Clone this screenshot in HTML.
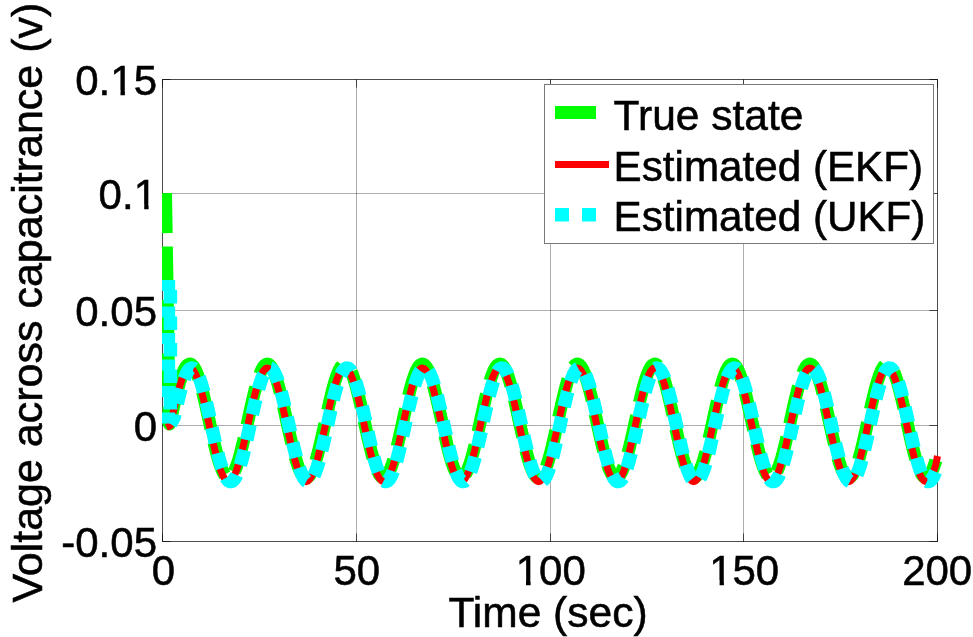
<!DOCTYPE html>
<html><head><meta charset="utf-8"><title>plot</title>
<style>html,body{margin:0;padding:0;background:#fff;overflow:hidden}svg{display:block;filter:blur(0.4px)}</style>
</head><body>
<svg width="973" height="637" viewBox="0 0 973 637">
<rect width="973" height="637" fill="#fff"/>
<defs><clipPath id="cp"><rect x="162" y="60" width="790" height="500"/></clipPath></defs>
<line x1="356.5" y1="79.5" x2="356.5" y2="541.5" stroke="#000000" stroke-opacity="0.32" stroke-width="1"/>
<line x1="550.5" y1="79.5" x2="550.5" y2="541.5" stroke="#000000" stroke-opacity="0.32" stroke-width="1"/>
<line x1="743.5" y1="79.5" x2="743.5" y2="541.5" stroke="#000000" stroke-opacity="0.32" stroke-width="1"/>
<line x1="162.5" y1="193.5" x2="937.5" y2="193.5" stroke="#000000" stroke-opacity="0.32" stroke-width="1"/>
<line x1="162.5" y1="310.5" x2="937.5" y2="310.5" stroke="#000000" stroke-opacity="0.32" stroke-width="1"/>
<line x1="162.5" y1="425.5" x2="937.5" y2="425.5" stroke="#000000" stroke-opacity="0.32" stroke-width="1"/>
<line x1="356.5" y1="541.5" x2="356.5" y2="533.5" stroke="#000000" stroke-opacity="0.62"/>
<line x1="356.5" y1="79.5" x2="356.5" y2="87.5" stroke="#000000" stroke-opacity="0.62"/>
<line x1="550.5" y1="541.5" x2="550.5" y2="533.5" stroke="#000000" stroke-opacity="0.62"/>
<line x1="550.5" y1="79.5" x2="550.5" y2="87.5" stroke="#000000" stroke-opacity="0.62"/>
<line x1="743.5" y1="541.5" x2="743.5" y2="533.5" stroke="#000000" stroke-opacity="0.62"/>
<line x1="743.5" y1="79.5" x2="743.5" y2="87.5" stroke="#000000" stroke-opacity="0.62"/>
<line x1="162.5" y1="193.5" x2="170.5" y2="193.5" stroke="#000000" stroke-opacity="0.62"/>
<line x1="937.5" y1="193.5" x2="929.5" y2="193.5" stroke="#000000" stroke-opacity="0.62"/>
<line x1="162.5" y1="310.5" x2="170.5" y2="310.5" stroke="#000000" stroke-opacity="0.62"/>
<line x1="937.5" y1="310.5" x2="929.5" y2="310.5" stroke="#000000" stroke-opacity="0.62"/>
<line x1="162.5" y1="425.5" x2="170.5" y2="425.5" stroke="#000000" stroke-opacity="0.62"/>
<line x1="937.5" y1="425.5" x2="929.5" y2="425.5" stroke="#000000" stroke-opacity="0.62"/>
<rect x="162.5" y="79.5" width="775" height="462" fill="none" stroke="#000000" stroke-opacity="0.7" stroke-width="1"/>
<line x1="162.5" y1="79.5" x2="170.5" y2="79.5" stroke="#000000" stroke-opacity="0.62"/>
<line x1="929.5" y1="79.5" x2="937.5" y2="79.5" stroke="#000000" stroke-opacity="0.62"/>
<line x1="162.5" y1="541.5" x2="170.5" y2="541.5" stroke="#000000" stroke-opacity="0.62"/>
<line x1="929.5" y1="541.5" x2="937.5" y2="541.5" stroke="#000000" stroke-opacity="0.62"/>
<line x1="162.5" y1="79.5" x2="162.5" y2="87.5" stroke="#000000" stroke-opacity="0.62"/>
<line x1="937.5" y1="79.5" x2="937.5" y2="87.5" stroke="#000000" stroke-opacity="0.62"/>
<line x1="162.5" y1="533.5" x2="162.5" y2="541.5" stroke="#000000" stroke-opacity="0.62"/>
<line x1="937.5" y1="533.5" x2="937.5" y2="541.5" stroke="#000000" stroke-opacity="0.62"/>
<g clip-path="url(#cp)" fill="none" stroke-linejoin="round">
<path d="M165.50 193.20 L169.30 424.00 L172.19 412.87 L174.12 404.17 L176.06 395.88 L178.00 388.20 L179.94 381.33 L181.88 375.44 L183.81 370.66 L185.75 367.12 L187.69 364.90 L189.62 364.06 L191.56 364.62 L193.50 366.57 L195.44 369.85 L197.38 374.39 L199.31 380.07 L201.25 386.76 L203.19 394.29 L205.12 402.47 L207.06 411.11 L209.00 419.99 L210.94 428.89 L212.88 437.59 L214.81 445.88 L216.75 453.56 L218.69 460.43 L220.62 466.32 L222.56 471.10 L224.50 474.64 L226.44 476.86 L228.38 477.70 L230.31 477.14 L232.25 475.19 L234.19 471.91 L236.12 467.37 L238.06 461.69 L240.00 455.00 L241.94 447.47 L243.88 439.29 L245.81 430.65 L247.75 421.77 L249.69 412.87 L251.62 404.17 L253.56 395.88 L255.50 388.20 L257.44 381.33 L259.38 375.44 L261.31 370.66 L263.25 367.12 L265.19 364.90 L267.12 364.06 L269.06 364.62 L271.00 366.57 L272.94 369.85 L274.88 374.39 L276.81 380.07 L278.75 386.76 L280.69 394.29 L282.62 402.47 L284.56 411.11 L286.50 419.99 L288.44 428.89 L290.38 437.59 L292.31 445.88 L294.25 453.56 L296.19 460.43 L298.12 466.32 L300.06 471.10 L302.00 474.64 L303.94 476.86 L305.88 477.70 L307.81 477.14 L309.75 475.19 L311.69 471.91 L313.62 467.37 L315.56 461.69 L317.50 455.00 L319.44 447.47 L321.38 439.29 L323.31 430.65 L325.25 421.77 L327.19 412.87 L329.12 404.17 L331.06 395.88 L333.00 388.20 L334.94 381.33 L336.88 375.44 L338.81 370.66 L340.75 367.12 L342.69 364.90 L344.62 364.06 L346.56 364.62 L348.50 366.57 L350.44 369.85 L352.38 374.39 L354.31 380.07 L356.25 386.76 L358.19 394.29 L360.12 402.47 L362.06 411.11 L364.00 419.99 L365.94 428.89 L367.88 437.59 L369.81 445.88 L371.75 453.56 L373.69 460.43 L375.62 466.32 L377.56 471.10 L379.50 474.64 L381.44 476.86 L383.38 477.70 L385.31 477.14 L387.25 475.19 L389.19 471.91 L391.12 467.37 L393.06 461.69 L395.00 455.00 L396.94 447.47 L398.88 439.29 L400.81 430.65 L402.75 421.77 L404.69 412.87 L406.62 404.17 L408.56 395.88 L410.50 388.20 L412.44 381.33 L414.38 375.44 L416.31 370.66 L418.25 367.12 L420.19 364.90 L422.12 364.06 L424.06 364.62 L426.00 366.57 L427.94 369.85 L429.88 374.39 L431.81 380.07 L433.75 386.76 L435.69 394.29 L437.62 402.47 L439.56 411.11 L441.50 419.99 L443.44 428.89 L445.38 437.59 L447.31 445.88 L449.25 453.56 L451.19 460.43 L453.12 466.32 L455.06 471.10 L457.00 474.64 L458.94 476.86 L460.88 477.70 L462.81 477.14 L464.75 475.19 L466.69 471.91 L468.62 467.37 L470.56 461.69 L472.50 455.00 L474.44 447.47 L476.38 439.29 L478.31 430.65 L480.25 421.77 L482.19 412.87 L484.12 404.17 L486.06 395.88 L488.00 388.20 L489.94 381.33 L491.88 375.44 L493.81 370.66 L495.75 367.12 L497.69 364.90 L499.62 364.06 L501.56 364.62 L503.50 366.57 L505.44 369.85 L507.38 374.39 L509.31 380.07 L511.25 386.76 L513.19 394.29 L515.12 402.47 L517.06 411.11 L519.00 419.99 L520.94 428.89 L522.88 437.59 L524.81 445.88 L526.75 453.56 L528.69 460.43 L530.62 466.32 L532.56 471.10 L534.50 474.64 L536.44 476.86 L538.38 477.70 L540.31 477.14 L542.25 475.19 L544.19 471.91 L546.12 467.37 L548.06 461.69 L550.00 455.00 L551.94 447.47 L553.88 439.29 L555.81 430.65 L557.75 421.77 L559.69 412.87 L561.62 404.17 L563.56 395.88 L565.50 388.20 L567.44 381.33 L569.38 375.44 L571.31 370.66 L573.25 367.12 L575.19 364.90 L577.12 364.06 L579.06 364.62 L581.00 366.57 L582.94 369.85 L584.88 374.39 L586.81 380.07 L588.75 386.76 L590.69 394.29 L592.62 402.47 L594.56 411.11 L596.50 419.99 L598.44 428.89 L600.38 437.59 L602.31 445.88 L604.25 453.56 L606.19 460.43 L608.12 466.32 L610.06 471.10 L612.00 474.64 L613.94 476.86 L615.88 477.70 L617.81 477.14 L619.75 475.19 L621.69 471.91 L623.62 467.37 L625.56 461.69 L627.50 455.00 L629.44 447.47 L631.38 439.29 L633.31 430.65 L635.25 421.77 L637.19 412.87 L639.12 404.17 L641.06 395.88 L643.00 388.20 L644.94 381.33 L646.88 375.44 L648.81 370.66 L650.75 367.12 L652.69 364.90 L654.62 364.06 L656.56 364.62 L658.50 366.57 L660.44 369.85 L662.38 374.39 L664.31 380.07 L666.25 386.76 L668.19 394.29 L670.12 402.47 L672.06 411.11 L674.00 419.99 L675.94 428.89 L677.88 437.59 L679.81 445.88 L681.75 453.56 L683.69 460.43 L685.62 466.32 L687.56 471.10 L689.50 474.64 L691.44 476.86 L693.38 477.70 L695.31 477.14 L697.25 475.19 L699.19 471.91 L701.12 467.37 L703.06 461.69 L705.00 455.00 L706.94 447.47 L708.88 439.29 L710.81 430.65 L712.75 421.77 L714.69 412.87 L716.62 404.17 L718.56 395.88 L720.50 388.20 L722.44 381.33 L724.38 375.44 L726.31 370.66 L728.25 367.12 L730.19 364.90 L732.12 364.06 L734.06 364.62 L736.00 366.57 L737.94 369.85 L739.88 374.39 L741.81 380.07 L743.75 386.76 L745.69 394.29 L747.62 402.47 L749.56 411.11 L751.50 419.99 L753.44 428.89 L755.38 437.59 L757.31 445.88 L759.25 453.56 L761.19 460.43 L763.12 466.32 L765.06 471.10 L767.00 474.64 L768.94 476.86 L770.88 477.70 L772.81 477.14 L774.75 475.19 L776.69 471.91 L778.62 467.37 L780.56 461.69 L782.50 455.00 L784.44 447.47 L786.38 439.29 L788.31 430.65 L790.25 421.77 L792.19 412.87 L794.12 404.17 L796.06 395.88 L798.00 388.20 L799.94 381.33 L801.88 375.44 L803.81 370.66 L805.75 367.12 L807.69 364.90 L809.62 364.06 L811.56 364.62 L813.50 366.57 L815.44 369.85 L817.38 374.39 L819.31 380.07 L821.25 386.76 L823.19 394.29 L825.12 402.47 L827.06 411.11 L829.00 419.99 L830.94 428.89 L832.88 437.59 L834.81 445.88 L836.75 453.56 L838.69 460.43 L840.62 466.32 L842.56 471.10 L844.50 474.64 L846.44 476.86 L848.38 477.70 L850.31 477.14 L852.25 475.19 L854.19 471.91 L856.12 467.37 L858.06 461.69 L860.00 455.00 L861.94 447.47 L863.88 439.29 L865.81 430.65 L867.75 421.77 L869.69 412.87 L871.62 404.17 L873.56 395.88 L875.50 388.20 L877.44 381.33 L879.38 375.44 L881.31 370.66 L883.25 367.12 L885.19 364.90 L887.12 364.06 L889.06 364.62 L891.00 366.57 L892.94 369.85 L894.88 374.39 L896.81 380.07 L898.75 386.76 L900.69 394.29 L902.62 402.47 L904.56 411.11 L906.50 419.99 L908.44 428.89 L910.38 437.59 L912.31 445.88 L914.25 453.56 L916.19 460.43 L918.12 466.32 L920.06 471.10 L922.00 474.64 L923.94 476.86 L925.88 477.70 L927.81 477.14 L929.75 475.19 L931.69 471.91 L933.62 467.37 L935.56 461.69 L935.95 460.43" stroke="#00ff00" stroke-width="13" stroke-dasharray="39.90 13.40 40.05 13.40 40.10 13.40 40.10 13.40 39.73 13.40 46.31 13.40 38.60 13.40 34.64 13.40 35.02 13.40 38.96 13.40 46.04 13.40 38.68 13.40 31.31 13.40 38.31 13.40 47.73 13.40 37.27 13.40 38.77 13.40 31.00 13.40 38.60 13.40 46.41 13.40 38.55 13.40 38.22 13.40 31.46 13.40 38.83 13.40 46.20 13.40 38.64 13.40 32.05 13.40 37.59 13.40 39.20 13.40 45.80 13.40 38.72 13.40 31.13 13.40 38.47 13.40 46.50 13.40 38.49 13.40 38.86 13.40 30.84 13.40 38.71 13.40 46.31 13.40 38.60 13.40 33.61 13.40 36.06 13.40 38.96 13.40 46.04 13.40 38.68 13.40 31.31 13.40 38.31 13.40 47.02 13.40 37.98 13.40 38.77 13.40 33.98 0.00"/>
<path d="M166.38 427.35 L170.25 425.70 L172.19 416.80 L174.12 408.10 L176.06 399.81 L178.00 392.13 L179.94 385.26 L181.88 379.36 L183.81 374.59 L185.75 371.04 L187.69 368.83 L189.62 367.99 L191.56 368.55 L193.50 370.49 L195.44 373.78 L197.38 378.31 L199.31 384.00 L201.25 390.69 L203.19 398.22 L205.12 406.40 L207.06 415.04 L209.00 423.91 L210.94 432.81 L212.88 441.52 L214.81 449.81 L216.75 457.48 L218.69 464.35 L220.62 470.25 L222.56 475.03 L224.50 478.57 L226.44 480.79 L228.38 481.63 L230.31 481.07 L232.25 479.12 L234.19 475.84 L236.12 471.30 L238.06 465.62 L240.00 458.93 L241.94 451.40 L243.88 443.21 L245.81 434.58 L247.75 425.70 L249.69 416.80 L251.62 408.10 L253.56 399.81 L255.50 392.13 L257.44 385.26 L259.38 379.36 L261.31 374.59 L263.25 371.04 L265.19 368.83 L267.12 367.99 L269.06 368.55 L271.00 370.49 L272.94 373.78 L274.88 378.31 L276.81 384.00 L278.75 390.69 L280.69 398.22 L282.62 406.40 L284.56 415.04 L286.50 423.91 L288.44 432.81 L290.38 441.52 L292.31 449.81 L294.25 457.48 L296.19 464.35 L298.12 470.25 L300.06 475.03 L302.00 478.57 L303.94 480.79 L305.88 481.63 L307.81 481.07 L309.75 479.12 L311.69 475.84 L313.62 471.30 L315.56 465.62 L317.50 458.93 L319.44 451.40 L321.38 443.21 L323.31 434.58 L325.25 425.70 L327.19 416.80 L329.12 408.10 L331.06 399.81 L333.00 392.13 L334.94 385.26 L336.88 379.36 L338.81 374.59 L340.75 371.04 L342.69 368.83 L344.62 367.99 L346.56 368.55 L348.50 370.49 L350.44 373.78 L352.38 378.31 L354.31 384.00 L356.25 390.69 L358.19 398.22 L360.12 406.40 L362.06 415.04 L364.00 423.91 L365.94 432.81 L367.88 441.52 L369.81 449.81 L371.75 457.48 L373.69 464.35 L375.62 470.25 L377.56 475.03 L379.50 478.57 L381.44 480.79 L383.38 481.63 L385.31 481.07 L387.25 479.12 L389.19 475.84 L391.12 471.30 L393.06 465.62 L395.00 458.93 L396.94 451.40 L398.88 443.21 L400.81 434.58 L402.75 425.70 L404.69 416.80 L406.62 408.10 L408.56 399.81 L410.50 392.13 L412.44 385.26 L414.38 379.36 L416.31 374.59 L418.25 371.04 L420.19 368.83 L422.12 367.99 L424.06 368.55 L426.00 370.49 L427.94 373.78 L429.88 378.31 L431.81 384.00 L433.75 390.69 L435.69 398.22 L437.62 406.40 L439.56 415.04 L441.50 423.91 L443.44 432.81 L445.38 441.52 L447.31 449.81 L449.25 457.48 L451.19 464.35 L453.12 470.25 L455.06 475.03 L457.00 478.57 L458.94 480.79 L460.88 481.63 L462.81 481.07 L464.75 479.12 L466.69 475.84 L468.62 471.30 L470.56 465.62 L472.50 458.93 L474.44 451.40 L476.38 443.21 L478.31 434.58 L480.25 425.70 L482.19 416.80 L484.12 408.10 L486.06 399.81 L488.00 392.13 L489.94 385.26 L491.88 379.36 L493.81 374.59 L495.75 371.04 L497.69 368.83 L499.62 367.99 L501.56 368.55 L503.50 370.49 L505.44 373.78 L507.38 378.31 L509.31 384.00 L511.25 390.69 L513.19 398.22 L515.12 406.40 L517.06 415.04 L519.00 423.91 L520.94 432.81 L522.88 441.52 L524.81 449.81 L526.75 457.48 L528.69 464.35 L530.62 470.25 L532.56 475.03 L534.50 478.57 L536.44 480.79 L538.38 481.63 L540.31 481.07 L542.25 479.12 L544.19 475.84 L546.12 471.30 L548.06 465.62 L550.00 458.93 L551.94 451.40 L553.88 443.21 L555.81 434.58 L557.75 425.70 L559.69 416.80 L561.62 408.10 L563.56 399.81 L565.50 392.13 L567.44 385.26 L569.38 379.36 L571.31 374.59 L573.25 371.04 L575.19 368.83 L577.12 367.99 L579.06 368.55 L581.00 370.49 L582.94 373.78 L584.88 378.31 L586.81 384.00 L588.75 390.69 L590.69 398.22 L592.62 406.40 L594.56 415.04 L596.50 423.91 L598.44 432.81 L600.38 441.52 L602.31 449.81 L604.25 457.48 L606.19 464.35 L608.12 470.25 L610.06 475.03 L612.00 478.57 L613.94 480.79 L615.88 481.63 L617.81 481.07 L619.75 479.12 L621.69 475.84 L623.62 471.30 L625.56 465.62 L627.50 458.93 L629.44 451.40 L631.38 443.21 L633.31 434.58 L635.25 425.70 L637.19 416.80 L639.12 408.10 L641.06 399.81 L643.00 392.13 L644.94 385.26 L646.88 379.36 L648.81 374.59 L650.75 371.04 L652.69 368.83 L654.62 367.99 L656.56 368.55 L658.50 370.49 L660.44 373.78 L662.38 378.31 L664.31 384.00 L666.25 390.69 L668.19 398.22 L670.12 406.40 L672.06 415.04 L674.00 423.91 L675.94 432.81 L677.88 441.52 L679.81 449.81 L681.75 457.48 L683.69 464.35 L685.62 470.25 L687.56 475.03 L689.50 478.57 L691.44 480.79 L693.38 481.63 L695.31 481.07 L697.25 479.12 L699.19 475.84 L701.12 471.30 L703.06 465.62 L705.00 458.93 L706.94 451.40 L708.88 443.21 L710.81 434.58 L712.75 425.70 L714.69 416.80 L716.62 408.10 L718.56 399.81 L720.50 392.13 L722.44 385.26 L724.38 379.36 L726.31 374.59 L728.25 371.04 L730.19 368.83 L732.12 367.99 L734.06 368.55 L736.00 370.49 L737.94 373.78 L739.88 378.31 L741.81 384.00 L743.75 390.69 L745.69 398.22 L747.62 406.40 L749.56 415.04 L751.50 423.91 L753.44 432.81 L755.38 441.52 L757.31 449.81 L759.25 457.48 L761.19 464.35 L763.12 470.25 L765.06 475.03 L767.00 478.57 L768.94 480.79 L770.88 481.63 L772.81 481.07 L774.75 479.12 L776.69 475.84 L778.62 471.30 L780.56 465.62 L782.50 458.93 L784.44 451.40 L786.38 443.21 L788.31 434.58 L790.25 425.70 L792.19 416.80 L794.12 408.10 L796.06 399.81 L798.00 392.13 L799.94 385.26 L801.88 379.36 L803.81 374.59 L805.75 371.04 L807.69 368.83 L809.62 367.99 L811.56 368.55 L813.50 370.49 L815.44 373.78 L817.38 378.31 L819.31 384.00 L821.25 390.69 L823.19 398.22 L825.12 406.40 L827.06 415.04 L829.00 423.91 L830.94 432.81 L832.88 441.52 L834.81 449.81 L836.75 457.48 L838.69 464.35 L840.62 470.25 L842.56 475.03 L844.50 478.57 L846.44 480.79 L848.38 481.63 L850.31 481.07 L852.25 479.12 L854.19 475.84 L856.12 471.30 L858.06 465.62 L860.00 458.93 L861.94 451.40 L863.88 443.21 L865.81 434.58 L867.75 425.70 L869.69 416.80 L871.62 408.10 L873.56 399.81 L875.50 392.13 L877.44 385.26 L879.38 379.36 L881.31 374.59 L883.25 371.04 L885.19 368.83 L887.12 367.99 L889.06 368.55 L891.00 370.49 L892.94 373.78 L894.88 378.31 L896.81 384.00 L898.75 390.69 L900.69 398.22 L902.62 406.40 L904.56 415.04 L906.50 423.91 L908.44 432.81 L910.38 441.52 L912.31 449.81 L914.25 457.48 L916.19 464.35 L918.12 470.25 L920.06 475.03 L922.00 478.57 L923.94 480.79 L925.88 481.63 L927.81 481.07 L929.75 479.12 L931.69 475.84 L933.62 471.30 L935.56 465.62 L937.50 456.00" stroke="#ff0000" stroke-width="7"/>
<path d="M168.4 280 L168.4 426" stroke="#00ffff" stroke-width="13.5" stroke-dasharray="11 15.5"/>
<path d="M170.4 290 L170.4 410" stroke="#00ffff" stroke-width="13.5" stroke-dasharray="13.5 13"/>
<path d="M170.40 424.00 L174.12 417.68 L176.06 408.95 L178.00 400.61 L179.94 392.87 L181.88 385.91 L183.81 379.91 L185.75 375.01 L187.69 371.34 L189.62 368.99 L191.56 368.01 L193.50 368.43 L195.44 370.24 L197.38 373.39 L199.31 377.81 L201.25 383.38 L203.19 389.98 L205.12 397.43 L207.06 405.56 L209.00 414.16 L210.94 423.02 L212.88 431.93 L214.81 440.66 L216.75 449.00 L218.69 456.75 L220.62 463.71 L222.56 469.71 L224.50 474.60 L226.44 478.27 L228.38 480.63 L230.31 481.60 L232.25 481.18 L234.19 479.38 L236.12 476.22 L238.06 471.81 L240.00 466.23 L241.94 459.64 L243.88 452.18 L245.81 444.06 L247.75 435.46 L249.69 426.59 L251.62 417.68 L253.56 408.95 L255.50 400.61 L257.44 392.87 L259.38 385.91 L261.31 379.91 L263.25 375.01 L265.19 371.34 L267.12 368.99 L269.06 368.01 L271.00 368.43 L272.94 370.24 L274.88 373.39 L276.81 377.81 L278.75 383.38 L280.69 389.98 L282.62 397.43 L284.56 405.56 L286.50 414.16 L288.44 423.02 L290.38 431.93 L292.31 440.66 L294.25 449.00 L296.19 456.75 L298.12 463.71 L300.06 469.71 L302.00 474.60 L303.94 478.27 L305.88 480.63 L307.81 481.60 L309.75 481.18 L311.69 479.38 L313.62 476.22 L315.56 471.81 L317.50 466.23 L319.44 459.64 L321.38 452.18 L323.31 444.06 L325.25 435.46 L327.19 426.59 L329.12 417.68 L331.06 408.95 L333.00 400.61 L334.94 392.87 L336.88 385.91 L338.81 379.91 L340.75 375.01 L342.69 371.34 L344.62 368.99 L346.56 368.01 L348.50 368.43 L350.44 370.24 L352.38 373.39 L354.31 377.81 L356.25 383.38 L358.19 389.98 L360.12 397.43 L362.06 405.56 L364.00 414.16 L365.94 423.02 L367.88 431.93 L369.81 440.66 L371.75 449.00 L373.69 456.75 L375.62 463.71 L377.56 469.71 L379.50 474.60 L381.44 478.27 L383.38 480.63 L385.31 481.60 L387.25 481.18 L389.19 479.38 L391.12 476.22 L393.06 471.81 L395.00 466.23 L396.94 459.64 L398.88 452.18 L400.81 444.06 L402.75 435.46 L404.69 426.59 L406.62 417.68 L408.56 408.95 L410.50 400.61 L412.44 392.87 L414.38 385.91 L416.31 379.91 L418.25 375.01 L420.19 371.34 L422.12 368.99 L424.06 368.01 L426.00 368.43 L427.94 370.24 L429.88 373.39 L431.81 377.81 L433.75 383.38 L435.69 389.98 L437.62 397.43 L439.56 405.56 L441.50 414.16 L443.44 423.02 L445.38 431.93 L447.31 440.66 L449.25 449.00 L451.19 456.75 L453.12 463.71 L455.06 469.71 L457.00 474.60 L458.94 478.27 L460.88 480.63 L462.81 481.60 L464.75 481.18 L466.69 479.38 L468.62 476.22 L470.56 471.81 L472.50 466.23 L474.44 459.64 L476.38 452.18 L478.31 444.06 L480.25 435.46 L482.19 426.59 L484.12 417.68 L486.06 408.95 L488.00 400.61 L489.94 392.87 L491.88 385.91 L493.81 379.91 L495.75 375.01 L497.69 371.34 L499.62 368.99 L501.56 368.01 L503.50 368.43 L505.44 370.24 L507.38 373.39 L509.31 377.81 L511.25 383.38 L513.19 389.98 L515.12 397.43 L517.06 405.56 L519.00 414.16 L520.94 423.02 L522.88 431.93 L524.81 440.66 L526.75 449.00 L528.69 456.75 L530.62 463.71 L532.56 469.71 L534.50 474.60 L536.44 478.27 L538.38 480.63 L540.31 481.60 L542.25 481.18 L544.19 479.38 L546.12 476.22 L548.06 471.81 L550.00 466.23 L551.94 459.64 L553.88 452.18 L555.81 444.06 L557.75 435.46 L559.69 426.59 L561.62 417.68 L563.56 408.95 L565.50 400.61 L567.44 392.87 L569.38 385.91 L571.31 379.91 L573.25 375.01 L575.19 371.34 L577.12 368.99 L579.06 368.01 L581.00 368.43 L582.94 370.24 L584.88 373.39 L586.81 377.81 L588.75 383.38 L590.69 389.98 L592.62 397.43 L594.56 405.56 L596.50 414.16 L598.44 423.02 L600.38 431.93 L602.31 440.66 L604.25 449.00 L606.19 456.75 L608.12 463.71 L610.06 469.71 L612.00 474.60 L613.94 478.27 L615.88 480.63 L617.81 481.60 L619.75 481.18 L621.69 479.38 L623.62 476.22 L625.56 471.81 L627.50 466.23 L629.44 459.64 L631.38 452.18 L633.31 444.06 L635.25 435.46 L637.19 426.59 L639.12 417.68 L641.06 408.95 L643.00 400.61 L644.94 392.87 L646.88 385.91 L648.81 379.91 L650.75 375.01 L652.69 371.34 L654.62 368.99 L656.56 368.01 L658.50 368.43 L660.44 370.24 L662.38 373.39 L664.31 377.81 L666.25 383.38 L668.19 389.98 L670.12 397.43 L672.06 405.56 L674.00 414.16 L675.94 423.02 L677.88 431.93 L679.81 440.66 L681.75 449.00 L683.69 456.75 L685.62 463.71 L687.56 469.71 L689.50 474.60 L691.44 478.27 L693.38 480.63 L695.31 481.60 L697.25 481.18 L699.19 479.38 L701.12 476.22 L703.06 471.81 L705.00 466.23 L706.94 459.64 L708.88 452.18 L710.81 444.06 L712.75 435.46 L714.69 426.59 L716.62 417.68 L718.56 408.95 L720.50 400.61 L722.44 392.87 L724.38 385.91 L726.31 379.91 L728.25 375.01 L730.19 371.34 L732.12 368.99 L734.06 368.01 L736.00 368.43 L737.94 370.24 L739.88 373.39 L741.81 377.81 L743.75 383.38 L745.69 389.98 L747.62 397.43 L749.56 405.56 L751.50 414.16 L753.44 423.02 L755.38 431.93 L757.31 440.66 L759.25 449.00 L761.19 456.75 L763.12 463.71 L765.06 469.71 L767.00 474.60 L768.94 478.27 L770.88 480.63 L772.81 481.60 L774.75 481.18 L776.69 479.38 L778.62 476.22 L780.56 471.81 L782.50 466.23 L784.44 459.64 L786.38 452.18 L788.31 444.06 L790.25 435.46 L792.19 426.59 L794.12 417.68 L796.06 408.95 L798.00 400.61 L799.94 392.87 L801.88 385.91 L803.81 379.91 L805.75 375.01 L807.69 371.34 L809.62 368.99 L811.56 368.01 L813.50 368.43 L815.44 370.24 L817.38 373.39 L819.31 377.81 L821.25 383.38 L823.19 389.98 L825.12 397.43 L827.06 405.56 L829.00 414.16 L830.94 423.02 L832.88 431.93 L834.81 440.66 L836.75 449.00 L838.69 456.75 L840.62 463.71 L842.56 469.71 L844.50 474.60 L846.44 478.27 L848.38 480.63 L850.31 481.60 L852.25 481.18 L854.19 479.38 L856.12 476.22 L858.06 471.81 L860.00 466.23 L861.94 459.64 L863.88 452.18 L865.81 444.06 L867.75 435.46 L869.69 426.59 L871.62 417.68 L873.56 408.95 L875.50 400.61 L877.44 392.87 L879.38 385.91 L881.31 379.91 L883.25 375.01 L885.19 371.34 L887.12 368.99 L889.06 368.01 L891.00 368.43 L892.94 370.24 L894.88 373.39 L896.81 377.81 L898.75 383.38 L900.69 389.98 L902.62 397.43 L904.56 405.56 L906.50 414.16 L908.44 423.02 L910.38 431.93 L912.31 440.66 L914.25 449.00 L916.19 456.75 L918.12 463.71 L920.06 469.71 L922.00 474.60 L923.94 478.27 L925.88 480.63 L927.81 481.60 L929.75 481.18 L931.69 479.38 L933.62 476.22 L935.56 471.81" stroke="#00ffff" stroke-width="13.5" stroke-dasharray="15.5 10.53" stroke-dashoffset="4.41"/>
</g>
<rect x="544.5" y="84.5" width="389" height="159" fill="#fff" stroke="#7a7a7a" stroke-width="1"/>
<rect x="555" y="106" width="41" height="13" fill="#00ff00"/>
<rect x="555" y="161" width="54" height="7" fill="#ff0000"/>
<rect x="555" y="208" width="14" height="13.5" fill="#00ffff"/>
<rect x="582" y="208" width="14" height="13.5" fill="#00ffff"/>
<g style="font-family:'Liberation Sans',Arial,Helvetica,sans-serif;font-size:42px" fill="#000" stroke="#000" stroke-width="0.55">
<text x="613.6" y="130.3" style="font-size:42.5px">True state</text>
<text x="613.6" y="181.4" style="font-size:42.2px">Estimated (EKF)</text>
<text x="613.6" y="231.4" style="font-size:42.2px">Estimated (UKF)</text>
<text x="157" y="94.5" text-anchor="end">0.15</text>
<text x="157" y="208.5" text-anchor="end">0.1</text>
<text x="157" y="325.5" text-anchor="end">0.05</text>
<text x="157" y="440.5" text-anchor="end">0</text>
<text x="157" y="556.5" text-anchor="end">-0.05</text>
<text x="163.4" y="585" text-anchor="middle">0</text>
<text x="356.8" y="585" text-anchor="middle">50</text>
<text x="550.8" y="585" text-anchor="middle">100</text>
<text x="744.2" y="585" text-anchor="middle">150</text>
<text x="937.2" y="585" text-anchor="middle">200</text>
<text x="548" y="627" text-anchor="middle" style="font-size:42.5px">Time (sec)</text>
<text transform="translate(41.8,302.6) rotate(-90)" text-anchor="middle" style="font-size:43px">Voltage across capacitrance (v)</text>
</g>
<rect x="112.4" y="90.4" width="8.1" height="6.0" fill="#fff"/>
<rect x="124.9" y="90.4" width="8.1" height="6.0" fill="#fff"/>
<rect x="135.4" y="204.4" width="8.8" height="6.0" fill="#fff"/>
<rect x="148.6" y="204.4" width="8.0" height="6.0" fill="#fff"/>
<rect x="517.4" y="580.4" width="8.6" height="6.0" fill="#fff"/>
<rect x="530.6" y="580.4" width="8.0" height="6.0" fill="#fff"/>
<rect x="711.4" y="580.4" width="8.2" height="6.0" fill="#fff"/>
<rect x="723.9" y="580.4" width="7.7" height="6.0" fill="#fff"/>
</svg>
</body></html>
